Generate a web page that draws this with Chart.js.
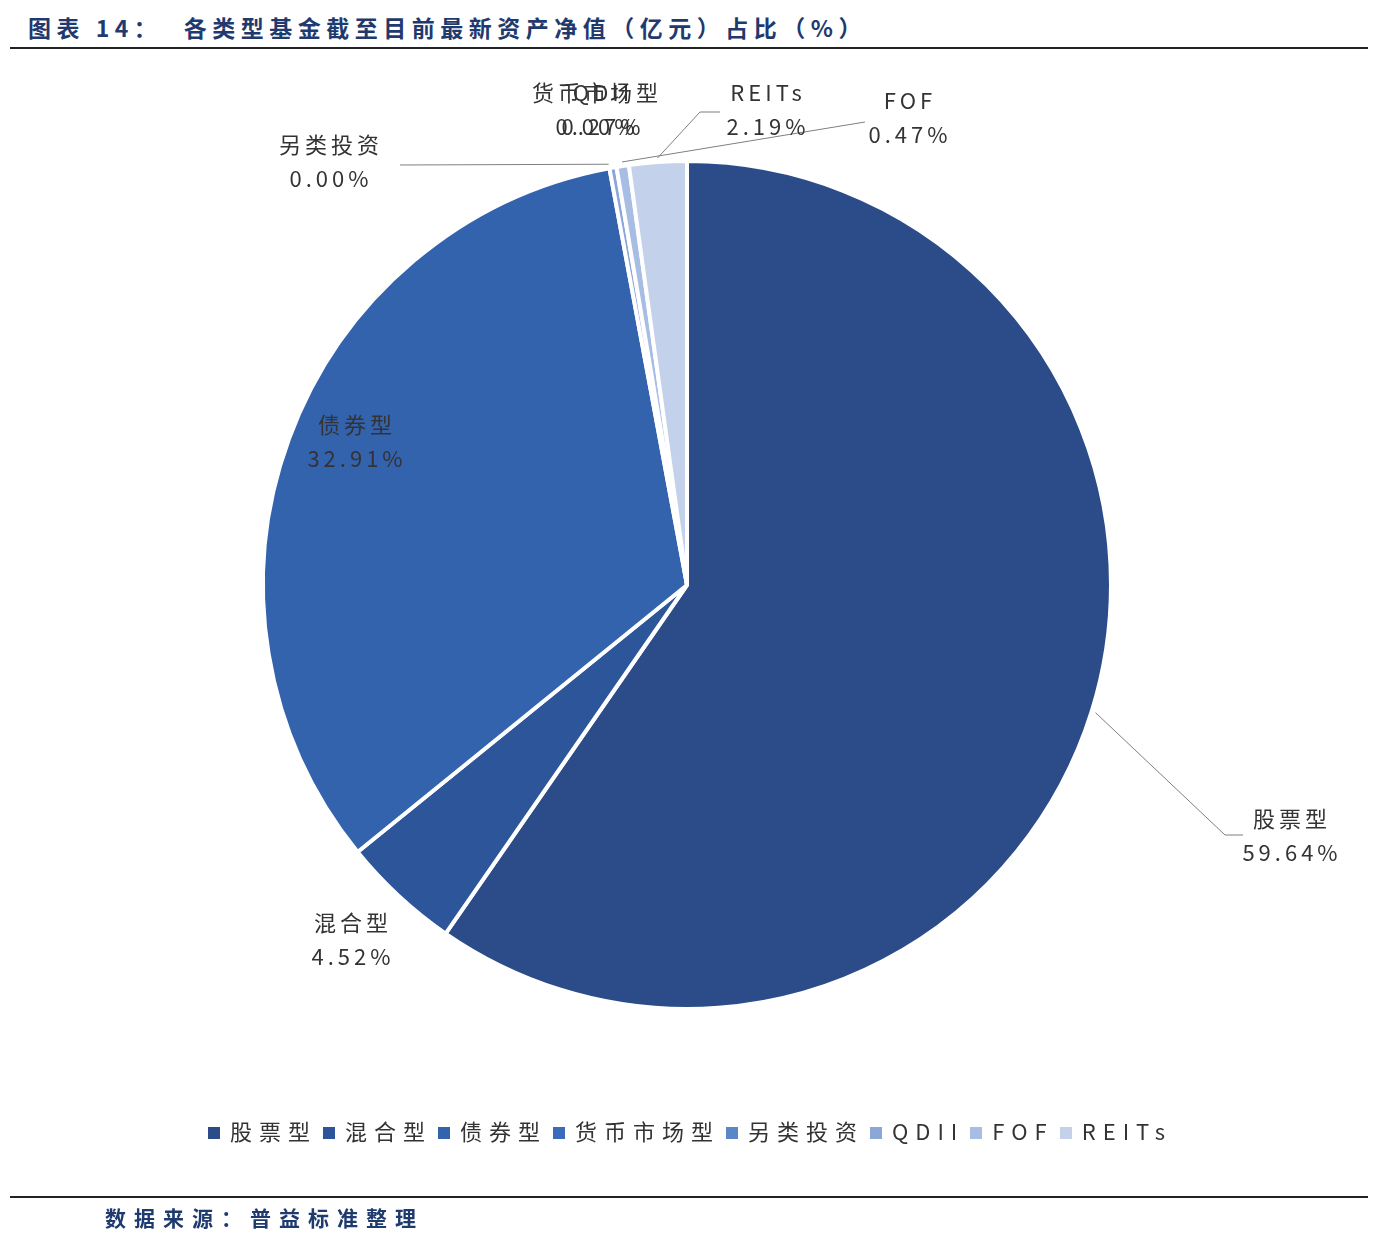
<!DOCTYPE html>
<html><head><meta charset="utf-8">
<script src="https://cdn.jsdelivr.net/npm/chart.js@4"></script>
<style>
body{margin:0;background:#fff;font-family:"Noto Sans CJK SC",sans-serif;}
#wrap{position:relative;width:1380px;height:1236px;}
#title{position:absolute;left:28px;top:10px;font-size:23px;font-weight:bold;color:#1f3a6e;letter-spacing:5.5px;}
#tl{position:absolute;left:10px;top:47px;width:1358px;border-top:2px solid #222;}
#bl{position:absolute;left:10px;top:1196px;width:1358px;border-top:2px solid #222;}
#src{position:absolute;left:105px;top:1202px;font-size:21px;font-weight:bold;color:#1f3a6e;letter-spacing:8px;}
#legend{position:absolute;left:0;width:1380px;top:1114px;text-align:center;font-size:22px;color:#333;letter-spacing:7px;}
#legend span{margin:0 3px;white-space:nowrap;}
#legend i{display:inline-block;width:12px;height:12px;margin-right:10px;vertical-align:1px;}
canvas{position:absolute;left:0;top:0;}
</style></head><body>
<div id="wrap">
<div id="title">图表 14：&nbsp;&nbsp;各类型基金截至目前最新资产净值（亿元）占比（%）</div>
<div id="tl"></div>
<canvas id="chart" width="1380" height="1236"></canvas>
<div id="legend"></div>
<div id="bl"></div>
<div id="src">数据来源：普益标准整理</div>
</div>
<script>
var categories = ["股票型", "混合型", "债券型", "货币市场型", "另类投资", "QDII", "FOF", "REITs"];
var shares = [59.64, 4.52, 32.91, 0.00, 0.00, 0.27, 0.47, 2.19];
var colors = ["#2b4c89", "#2d5599", "#3463ae", "#3a6cbb", "#5b86c8", "#8aa7d8", "#a8bde3", "#c4d1ea"];
// label anchor (centre x, top y) and elbow points of leader lines
var labelPos = [[1292, 808], [353, 912], [357, 414], [597, 82], [331, 134], [603, 82], [910, 90], [768, 82]];
var leaders = [
  [[1225, 835], [1243, 835]],
  null,
  null,
  null,
  [[400, 165]],
  null,
  [[865, 122]],
  [[700, 112], [720, 112]]
];

var legend = document.getElementById("legend");
categories.forEach(function (c, i) {
  legend.innerHTML += '<span><i style="background:' + colors[i] + '"></i>' + c + '</span>';
});

var labelPlugin = {
  id: "outLabels",
  afterDatasetsDraw: function (chart) {
    var ctx = chart.ctx;
    var arcs = chart.getDatasetMeta(0).data;
    ctx.save();
    ctx.strokeStyle = "#7f7f7f";
    ctx.lineWidth = 1;
    arcs.forEach(function (a, i) {
      if (!leaders[i]) return;
      var mid = (a.startAngle + a.endAngle) / 2;
      ctx.beginPath();
      ctx.moveTo(a.x + Math.cos(mid) * (a.outerRadius + 4), a.y + Math.sin(mid) * (a.outerRadius + 4));
      leaders[i].forEach(function (p) { ctx.lineTo(p[0], p[1]); });
      ctx.stroke();
    });
    ctx.fillStyle = "#333";
    ctx.font = "22px 'Noto Sans CJK SC'";
    ctx.textAlign = "center";
    ctx.textBaseline = "top";
    if (ctx.letterSpacing !== undefined) ctx.letterSpacing = "4px";
    categories.forEach(function (c, i) {
      var p = labelPos[i];
      ctx.fillText(c, p[0], p[1]);
      ctx.fillText(shares[i].toFixed(2) + "%", p[0], p[1] + 34);
    });
    ctx.restore();
  }
};

new Chart(document.getElementById("chart"), {
  type: "pie",
  data: {
    labels: categories,
    datasets: [{
      data: shares,
      backgroundColor: colors,
      borderColor: "#fff",
      borderWidth: 4
    }]
  },
  options: {
    responsive: false,
    animation: false,
    layout: { padding: { top: 159, bottom: 225, left: 0, right: 6 } },
    plugins: { legend: { display: false }, tooltip: { enabled: false } }
  },
  plugins: [labelPlugin]
});
</script>
</body></html>
